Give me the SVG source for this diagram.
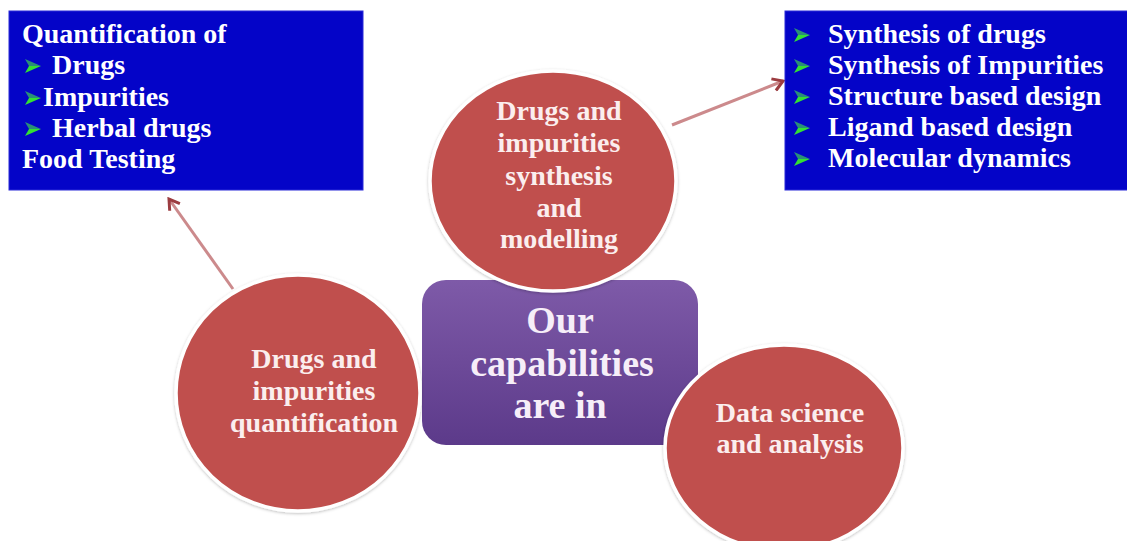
<svg xmlns="http://www.w3.org/2000/svg" width="1127" height="541" viewBox="0 0 1127 541">
  <style>
    .box { fill: #0404c8; stroke: #2a2ad8; stroke-width: 1; }
    .btxt { font-family: "Liberation Serif", "Times New Roman", "DejaVu Serif", serif; font-weight: bold; font-size: 28px; fill: #ffffff; }
    .circ { fill: #c0504d; stroke: #ffffff; stroke-width: 3.5; filter: url(#sh); }
    .ctxt { font-family: "Liberation Serif", "Times New Roman", "DejaVu Serif", serif; font-weight: bold; font-size: 28px; fill: #fbeeee; text-anchor: middle; }
    .mtxt { font-family: "Liberation Serif", "Times New Roman", "DejaVu Serif", serif; font-weight: bold; font-size: 38px; fill: #f6eef8; text-anchor: middle; }
    .conn { stroke: #cc8a8c; stroke-width: 3; fill: none; marker-end: url(#ah); }
  </style>
  <defs>
    <linearGradient id="pg" x1="0" y1="0" x2="0" y2="1">
      <stop offset="0" stop-color="#7e5aa8"/>
      <stop offset="1" stop-color="#5c3a8a"/>
    </linearGradient>
    <filter id="sh" x="-10%" y="-10%" width="120%" height="120%">
      <feDropShadow dx="0" dy="1" stdDeviation="1.5" flood-color="#000000" flood-opacity="0.25"/>
    </filter>
    <marker id="ah" viewBox="0 0 12 12" refX="10" refY="6" markerWidth="5" markerHeight="5" orient="auto" markerUnits="strokeWidth">
      <path d="M2,1 L10,6 L2,11" fill="none" stroke="#9c3c40" stroke-width="2.4" stroke-linejoin="miter"/>
    </marker>
    <g id="bul">
      <polygon points="0,0 16,7 4,7" fill="#2a8f78"/>
      <polygon points="4,7 16,7 0,14" fill="#33e033"/>
    </g>
  </defs>

  <rect width="1127" height="541" fill="#ffffff"/>

  <g id="connectors">
    <line class="conn" x1="233" y1="289" x2="169" y2="199"/>
    <line class="conn" x1="672" y1="125" x2="783" y2="81"/>
  </g>

  <g id="box-left">
    <rect class="box" x="9" y="11" width="354" height="179"/>
    <text class="btxt" x="22" y="43">Quantification of</text>
    <use href="#bul" x="25" y="59"/>
    <text class="btxt" x="52" y="74">Drugs</text>
    <use href="#bul" x="25" y="91"/>
    <text class="btxt" x="43" y="106">Impurities</text>
    <use href="#bul" x="25" y="122"/>
    <text class="btxt" x="52" y="137">Herbal drugs</text>
    <text class="btxt" x="22" y="168">Food Testing</text>
  </g>

  <g id="box-right">
    <rect class="box" x="785" y="11" width="343" height="179"/>
    <use href="#bul" x="794" y="28"/>
    <text class="btxt" x="828" y="43">Synthesis of drugs</text>
    <use href="#bul" x="794" y="59"/>
    <text class="btxt" x="828" y="74">Synthesis of Impurities</text>
    <use href="#bul" x="794" y="90"/>
    <text class="btxt" x="828" y="105">Structure based design</text>
    <use href="#bul" x="794" y="121"/>
    <text class="btxt" x="828" y="136">Ligand based design</text>
    <use href="#bul" x="794" y="152"/>
    <text class="btxt" x="828" y="167">Molecular dynamics</text>
  </g>

  <g id="center">
    <rect x="422" y="280" width="276" height="165" rx="24" fill="url(#pg)"/>
    <text class="mtxt" x="560" y="333">Our</text>
    <text class="mtxt" x="562" y="376">capabilities</text>
    <text class="mtxt" x="560" y="418">are in</text>
  </g>

  <g id="node-synthesis">
    <ellipse class="circ" cx="553" cy="181" rx="123" ry="110"/>
    <text class="ctxt" x="559" y="120">Drugs and</text>
    <text class="ctxt" x="559" y="152">impurities</text>
    <text class="ctxt" x="559" y="185">synthesis</text>
    <text class="ctxt" x="559" y="217">and</text>
    <text class="ctxt" x="559" y="248">modelling</text>
  </g>

  <g id="node-quantification">
    <ellipse class="circ" cx="298" cy="393" rx="122" ry="118"/>
    <text class="ctxt" x="314" y="368">Drugs and</text>
    <text class="ctxt" x="314" y="400">impurities</text>
    <text class="ctxt" x="314" y="432">quantification</text>
  </g>

  <g id="node-data">
    <ellipse class="circ" cx="784" cy="448" rx="119" ry="103"/>
    <text class="ctxt" x="790" y="422">Data science</text>
    <text class="ctxt" x="790" y="453">and analysis</text>
  </g>
</svg>
